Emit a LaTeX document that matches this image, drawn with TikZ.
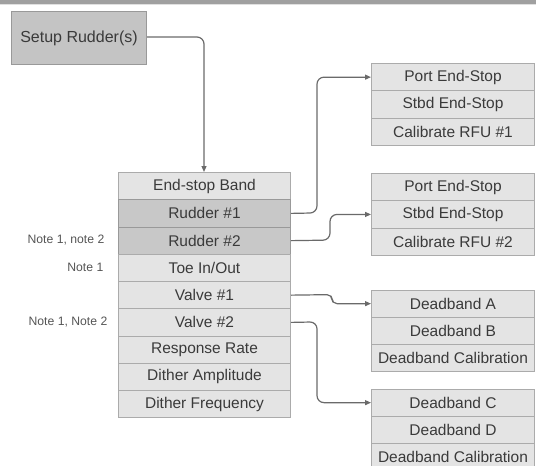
\documentclass[tikz,border=0pt]{standalone}
\usepackage{fontspec}
\setmainfont{Liberation Sans}
\usetikzlibrary{arrows.meta}
\definecolor{lightfill}{HTML}{E4E4E4}
\definecolor{darkfill}{HTML}{C8C8C8}
\definecolor{setupfill}{HTML}{C4C4C4}
\definecolor{edge}{HTML}{ABABAB}
\definecolor{darkedge}{HTML}{999999}
\definecolor{txt}{HTML}{3A3A3A}
\definecolor{notetxt}{HTML}{555555}
\definecolor{wire}{HTML}{6A6A6A}
\definecolor{barc}{HTML}{A0A0A0}
\tikzset{
  rowbox/.style={draw=edge, fill=lightfill, line width=1pt, anchor=north west,
    inner sep=0pt, minimum width=#1, minimum height=27.3pt, text=txt,
    font=\fontsize{15.5}{16}\selectfont},
  rudbox/.style={rowbox=#1, fill=darkfill, draw=darkedge},
  notelbl/.style={anchor=east, text=notetxt, font=\fontsize{12.2}{13}\selectfont, inner sep=0pt},
  wirestyle/.style={draw=wire, line width=1.2pt, rounded corners=7pt,
    -{Triangle[length=6pt,width=5pt]}}
}
\begin{document}
\begin{tikzpicture}[x=1pt,y=-1pt]
\useasboundingbox (0,0) rectangle (536,466);
\clip (0,0) rectangle (536,466);
\fill[barc] (0,0) rectangle (536,4.3);
\fill[black!12] (0,4.3) rectangle (536,5.3);

% setup
\node[rowbox=135pt, fill=setupfill, draw=darkedge, minimum height=53pt,
  font=\fontsize{16}{17}\selectfont] (setup) at (11,11) {Setup Rudder(s)};

% main stack
\node[rowbox=172pt] (m1) at (118,172) {End-stop Band};
\node[rudbox=172pt] (m2) at (118,199.25) {Rudder \#1};
\node[rudbox=172pt] (m3) at (118,226.5) {Rudder \#2};
\node[rowbox=172pt] (m4) at (118,253.75) {Toe In/Out};
\node[rowbox=172pt] (m5) at (118,281) {Valve \#1};
\node[rowbox=172pt] (m6) at (118,308.25) {Valve \#2};
\node[rowbox=172pt] (m7) at (118,335.5) {Response Rate};
\node[rowbox=172pt] (m8) at (118,362.75) {Dither Amplitude};
\node[rowbox=172pt] (m9) at (118,390) {Dither Frequency};

% notes
\node[notelbl] (n1) at (104.5,240) {Note 1, note 2};
\node[notelbl] (n2) at (103.5,267.5) {Note 1};
\node[notelbl] (n3) at (107.5,322) {Note 1, Note 2};

% stack A
\node[rowbox=163pt] (a1) at (371,63) {Port End-Stop};
\node[rowbox=163pt] (a2) at (371,90.3) {Stbd End-Stop};
\node[rowbox=163pt] (a3) at (371,117.6) {Calibrate RFU \#1};
% stack B
\node[rowbox=163pt] (b1) at (371,173) {Port End-Stop};
\node[rowbox=163pt] (b2) at (371,200.3) {Stbd End-Stop};
\node[rowbox=163pt] (b3) at (371,227.6) {Calibrate RFU \#2};
% stack C
\node[rowbox=163pt] (c1) at (371,289.5) {Deadband A};
\node[rowbox=163pt] (c2) at (371,316.8) {Deadband B};
\node[rowbox=163pt] (c3) at (371,344.1) {Deadband Calibration};
% stack D
\node[rowbox=163pt] (d1) at (371,388.5) {Deadband C};
\node[rowbox=163pt] (d2) at (371,415.8) {Deadband D};
\node[rowbox=163pt] (d3) at (371,443.1) {Deadband Calibration};

% connectors
\draw[wirestyle] (setup.east |- 0,37) -| (m1.north -| 204,0);
\draw[wirestyle] (m2.east) -- (317,212.9) |- (a1.west);
\draw[wirestyle] (m3.east) -- (330,240.1) |- (b2.west);
\draw[wirestyle, rounded corners=5pt] (m5.east) -- (332,294.6) |- (c1.west);
\draw[wirestyle] (m6.east) -- (317,321.9) |- (d1.west);
\end{tikzpicture}
\end{document}
